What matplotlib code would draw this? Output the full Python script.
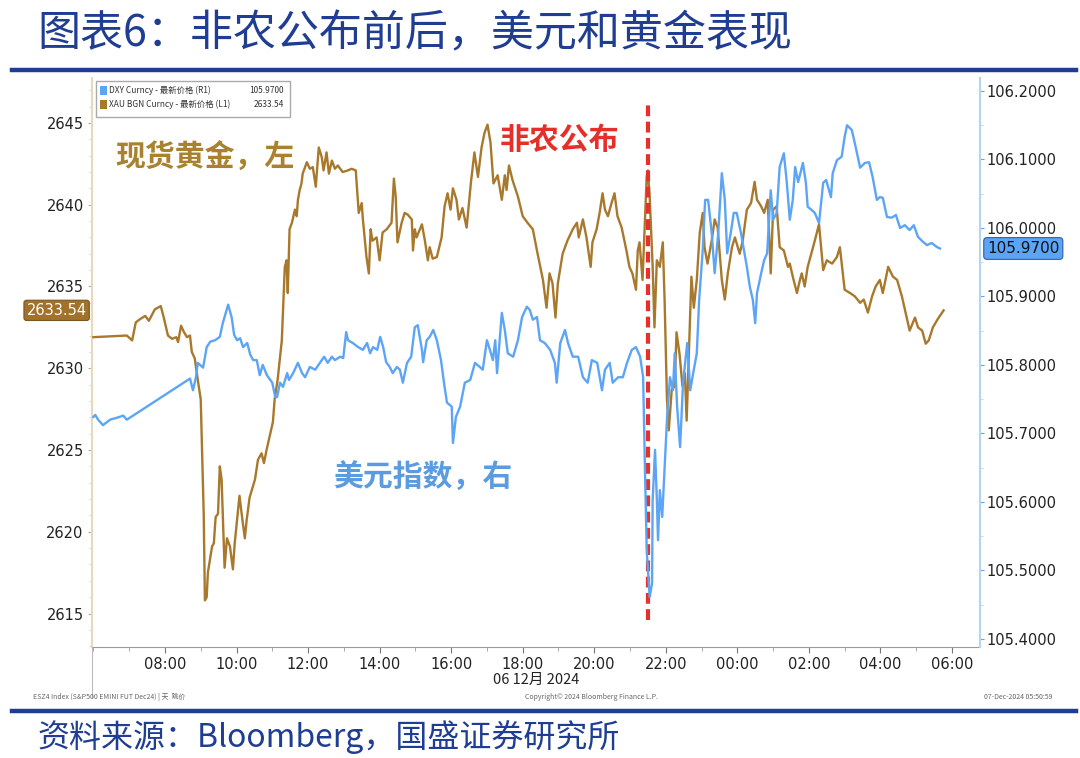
import numpy as np
import pandas as pd
import matplotlib
matplotlib.use("Agg")
import matplotlib.pyplot as plt
import matplotlib.dates as mdates
from matplotlib.lines import Line2D
from matplotlib.patches import Rectangle
from matplotlib.ticker import MultipleLocator, FixedLocator, FormatStrFormatter
from matplotlib.transforms import blended_transform_factory

plt.rcParams['font.family'] = ['Noto Sans CJK SC', 'DejaVu Sans']

# 现货黄金 (左轴), 北京时间 12/06 06:00 -> 12/07 05:46
gold_time = [
    "06:00", "06:56", "07:05", "07:11", "07:18", "07:27", "07:33", "07:43", "07:48", "07:53",
    "07:58", "08:05", "08:12", "08:19", "08:22", "08:27", "08:32", "08:37", "08:42", "08:45",
    "08:50", "08:55", "09:00", "09:02", "09:05", "09:07", "09:10", "09:12", "09:19", "09:22",
    "09:25", "09:29", "09:32", "09:35", "09:40", "09:44", "09:49", "09:54", "09:57", "10:02",
    "10:05", "10:10", "10:14", "10:17", "10:22", "10:27", "10:31", "10:36", "10:42", "10:46",
    "10:51", "10:56", "11:01", "11:04", "11:09", "11:16", "11:21", "11:24", "11:26", "11:29",
    "11:33", "11:38", "11:41", "11:43", "11:46", "11:49", "11:51", "11:55", "11:58", "12:03",
    "12:08", "12:13", "12:15", "12:18", "12:23", "12:26", "12:31", "12:35", "12:40", "12:45",
    "12:50", "12:58", "13:07", "13:13", "13:20", "13:23", "13:25", "13:30", "13:32", "13:38",
    "13:42", "13:45", "13:48", "13:55", "14:00", "14:05", "14:12", "14:20", "14:24", "14:27",
    "14:30", "14:37", "14:42", "14:47", "14:54", "14:56", "14:59", "15:02", "15:11", "15:16",
    "15:21", "15:24", "15:29", "15:36", "15:44", "15:49", "15:54", "15:59", "16:03", "16:09",
    "16:13", "16:19", "16:26", "16:33", "16:39", "16:45", "16:51", "16:56", "17:01", "17:06",
    "17:11", "17:18", "17:25", "17:30", "17:33", "17:37", "17:43", "17:52", "18:00", "18:08",
    "18:17", "18:25", "18:34", "18:40", "18:45", "18:50", "18:55", "18:59", "19:07", "19:15",
    "19:24", "19:31", "19:34", "19:41", "19:47", "19:54", "19:57", "20:04", "20:09", "20:14",
    "20:18", "20:23", "20:29", "20:34", "20:39", "20:46", "20:54", "20:59", "21:04", "21:10",
    "21:13", "21:16", "21:21", "21:28", "21:30", "21:33", "21:38", "21:41", "21:45", "21:50",
    "21:55", "21:58", "22:02", "22:05", "22:10", "22:15", "22:18", "22:23", "22:28", "22:32",
    "22:35", "22:38", "22:43", "22:47", "22:52", "22:57", "23:02", "23:05", "23:10", "23:17",
    "23:22", "23:27", "23:34", "23:39", "23:44", "23:51", "23:56", "00:04", "00:09", "00:16",
    "00:23", "00:29", "00:33", "00:40", "00:45", "00:51", "00:56", "01:00", "01:06", "01:11",
    "01:18", "01:25", "01:28", "01:33", "01:40", "01:45", "01:48", "01:53", "01:58", "02:07",
    "02:17", "02:24", "02:30", "02:39", "02:47", "02:52", "03:00", "03:09", "03:17", "03:26",
    "03:32", "03:39", "03:46", "03:52", "03:59", "04:04", "04:13", "04:21", "04:28", "04:36",
    "04:44", "04:49", "04:58", "05:03", "05:10", "05:16", "05:21", "05:28", "05:36", "05:46",
]
gold_price = [
    2631.9, 2632.0, 2631.7, 2632.8, 2633.0, 2633.2, 2632.9, 2633.6, 2633.7, 2633.8,
    2633.1, 2632.0, 2631.8, 2631.9, 2631.6, 2632.6, 2632.2, 2631.9, 2632.0, 2631.0,
    2630.6, 2629.3, 2628.1, 2625.2, 2621.1, 2615.8, 2616.0, 2617.5, 2619.1, 2619.3,
    2620.9, 2621.1, 2624.0, 2623.2, 2617.8, 2619.6, 2619.1, 2617.7, 2619.3, 2621.1,
    2622.2, 2620.7, 2619.6, 2620.7, 2622.1, 2622.7, 2623.2, 2624.4, 2624.8, 2624.2,
    2625.1, 2625.9, 2626.7, 2628.1, 2629.3, 2631.7, 2636.2, 2636.6, 2634.6, 2638.5,
    2638.9, 2639.7, 2639.3, 2640.3, 2640.9, 2641.3, 2641.9, 2642.3, 2642.6, 2642.2,
    2642.3, 2641.1, 2642.1, 2643.5, 2642.9, 2642.1, 2643.2, 2641.9, 2642.7, 2642.2,
    2642.4, 2642.0, 2642.1, 2642.2, 2642.1, 2640.5, 2639.5, 2640.1, 2639.1, 2636.8,
    2635.8, 2638.5, 2637.8, 2638.0, 2636.6, 2638.3, 2638.5, 2638.9, 2641.6, 2640.5,
    2637.7, 2638.9, 2639.5, 2639.4, 2639.1, 2637.2, 2638.5, 2638.0, 2638.8, 2637.8,
    2636.6, 2637.4, 2636.7, 2636.8, 2638.0, 2639.9, 2640.7, 2639.7, 2641.0, 2640.3,
    2639.1, 2639.8, 2638.6, 2641.3, 2643.2, 2641.7, 2643.5, 2644.4, 2644.9, 2643.8,
    2641.3, 2641.8, 2640.3, 2641.8, 2640.9, 2642.4, 2641.5, 2640.5, 2639.3, 2638.9,
    2638.5, 2637.0, 2635.4, 2633.7, 2635.8, 2635.2, 2633.1, 2635.2, 2637.0, 2637.8,
    2638.5, 2638.9, 2638.0, 2639.1, 2638.0, 2636.2, 2637.7, 2638.5, 2639.5, 2640.7,
    2639.7, 2639.3, 2640.1, 2640.7, 2639.3, 2638.6, 2637.2, 2636.2, 2635.8, 2634.8,
    2637.2, 2637.7, 2635.4, 2641.7, 2642.1, 2640.5, 2636.2, 2632.5, 2636.6, 2636.2,
    2637.7, 2634.2, 2628.1, 2626.2, 2628.7, 2628.9, 2632.2, 2630.9, 2628.9, 2629.7,
    2626.8, 2630.1, 2635.6, 2633.7, 2635.4, 2638.3, 2639.5, 2637.4, 2636.4, 2637.8,
    2639.1, 2638.6, 2635.4, 2634.2, 2635.8, 2637.4, 2638.0, 2637.0, 2637.8, 2639.7,
    2640.1, 2641.4, 2640.3, 2639.9, 2639.5, 2640.3, 2635.8, 2639.7, 2639.9, 2637.4,
    2637.2, 2636.2, 2636.4, 2635.6, 2634.6, 2635.4, 2635.8, 2635.0, 2636.2, 2637.4,
    2638.8, 2636.0, 2636.6, 2636.4, 2636.8, 2637.4, 2634.8, 2634.6, 2634.4, 2634.0,
    2634.2, 2633.4, 2634.4, 2635.0, 2635.4, 2634.6, 2636.2, 2635.6, 2635.4, 2634.4,
    2633.1, 2632.3, 2633.1, 2632.5, 2632.3, 2631.5, 2631.7, 2632.5, 2633.0, 2633.54,
]

# 美元指数 DXY (右轴)
dxy_time = [
    "06:00", "06:03", "06:08", "06:16", "06:28", "06:40", "06:50", "06:56", "08:42", "08:47",
    "08:52", "08:55", "09:04", "09:10", "09:16", "09:24", "09:32", "09:37", "09:46", "09:52",
    "09:56", "10:01", "10:06", "10:11", "10:18", "10:23", "10:28", "10:34", "10:39", "10:44",
    "10:51", "11:00", "11:05", "11:08", "11:13", "11:18", "11:25", "11:28", "11:35", "11:43",
    "11:50", "11:55", "12:03", "12:12", "12:20", "12:27", "12:33", "12:40", "12:45", "12:54",
    "12:59", "13:04", "13:07", "13:15", "13:24", "13:32", "13:39", "13:44", "13:49", "13:56",
    "14:01", "14:06", "14:11", "14:17", "14:22", "14:29", "14:34", "14:39", "14:46", "14:53",
    "14:59", "15:04", "15:11", "15:13", "15:19", "15:24", "15:30", "15:36", "15:43", "15:48",
    "15:53", "16:01", "16:03", "16:08", "16:15", "16:23", "16:32", "16:40", "16:48", "16:53",
    "17:00", "17:05", "17:10", "17:14", "17:17", "17:25", "17:30", "17:35", "17:44", "17:52",
    "17:59", "18:07", "18:12", "18:17", "18:24", "18:29", "18:37", "18:46", "18:54", "18:57",
    "19:03", "19:11", "19:16", "19:24", "19:33", "19:41", "19:49", "19:56", "20:05", "20:13",
    "20:18", "20:26", "20:31", "20:40", "20:48", "20:55", "21:03", "21:10", "21:17", "21:22",
    "21:25", "21:28", "21:33", "21:37", "21:38", "21:42", "21:45", "21:47", "21:50", "21:54",
    "21:57", "22:02", "22:07", "22:12", "22:15", "22:19", "22:24", "22:29", "22:36", "22:41",
    "22:46", "22:52", "22:56", "23:02", "23:06", "23:11", "23:17", "23:22", "23:28", "23:34",
    "23:39", "23:43", "23:49", "23:54", "23:59", "00:06", "00:11", "00:16", "00:21", "00:26",
    "00:30", "00:33", "00:40", "00:45", "00:50", "00:56", "01:00", "01:06", "01:11", "01:18",
    "01:23", "01:28", "01:33", "01:37", "01:42", "01:50", "01:55", "01:58", "02:05", "02:10",
    "02:17", "02:24", "02:29", "02:37", "02:40", "02:47", "02:55", "03:00", "03:04", "03:12",
    "03:17", "03:26", "03:34", "03:41", "03:47", "03:54", "03:59", "04:04", "04:11", "04:19",
    "04:26", "04:33", "04:41", "04:49", "04:56", "05:03", "05:11", "05:18", "05:26", "05:35",
    "05:40",
]
dxy_price = [
    105.724, 105.727, 105.720, 105.712, 105.720, 105.723, 105.726, 105.720, 105.780, 105.763,
    105.782, 105.803, 105.796, 105.826, 105.834, 105.836, 105.841, 105.861, 105.888, 105.869,
    105.844, 105.836, 105.839, 105.826, 105.832, 105.815, 105.807, 105.807, 105.785, 105.800,
    105.785, 105.774, 105.753, 105.753, 105.774, 105.768, 105.788, 105.778, 105.788, 105.803,
    105.788, 105.782, 105.797, 105.793, 105.803, 105.812, 105.803, 105.812, 105.807, 105.812,
    105.810, 105.848, 105.836, 105.832, 105.826, 105.822, 105.832, 105.817, 105.826, 105.822,
    105.841, 105.826, 105.804, 105.797, 105.788, 105.797, 105.793, 105.774, 105.803, 105.812,
    105.855, 105.858, 105.822, 105.804, 105.836, 105.841, 105.851, 105.836, 105.807, 105.774,
    105.745, 105.739, 105.686, 105.724, 105.739, 105.774, 105.778, 105.803, 105.797, 105.793,
    105.836, 105.822, 105.807, 105.836, 105.788, 105.876, 105.851, 105.817, 105.812, 105.836,
    105.870, 105.885, 105.880, 105.866, 105.870, 105.836, 105.832, 105.822, 105.803, 105.774,
    105.832, 105.851, 105.832, 105.812, 105.812, 105.782, 105.774, 105.807, 105.803, 105.763,
    105.793, 105.803, 105.774, 105.782, 105.782, 105.803, 105.822, 105.826, 105.812, 105.782,
    105.651, 105.530, 105.461, 105.481, 105.603, 105.676, 105.603, 105.544, 105.617, 105.578,
    105.632, 105.720, 105.782, 105.763, 105.817, 105.739, 105.680, 105.774, 105.832, 105.763,
    105.788, 105.817, 105.895, 105.968, 106.041, 106.041, 105.993, 105.934, 105.993, 106.080,
    106.041, 105.963, 105.993, 106.022, 106.022, 105.993, 105.968, 105.943, 105.914, 105.895,
    105.861, 105.905, 105.934, 105.953, 105.963, 106.055, 106.012, 106.022, 106.089, 106.109,
    106.066, 106.012, 106.041, 106.089, 106.067, 106.095, 106.066, 106.031, 106.026, 106.022,
    106.007, 106.066, 106.070, 106.045, 106.080, 106.099, 106.104, 106.133, 106.150, 106.143,
    106.124, 106.088, 106.095, 106.096, 106.074, 106.041, 106.045, 106.044, 106.016, 106.015,
    106.019, 106.000, 106.004, 105.997, 106.004, 105.987, 105.980, 105.975, 105.978, 105.972,
    105.970,
]

gold_left_ticks = [2615, 2620, 2625, 2630, 2635, 2640, 2645]
dxy_right_ticks = [105.4, 105.5, 105.6, 105.7, 105.8, 105.9, 106.0, 106.1, 106.2]
x_tick_times = ["08:00", "10:00", "12:00", "14:00", "16:00", "18:00", "20:00", "22:00",
                "00:00", "02:00", "04:00", "06:00"]
nfp_time = "21:30"


def to_dt(ts, last_day_06=False):
    out = []
    for t in ts:
        hh = int(t[:2])
        day = "2024-12-07" if (hh < 6 or (last_day_06 and hh == 6)) else "2024-12-06"
        out.append(pd.Timestamp(day + " " + t))
    return out


gt = to_dt(gold_time)
dt = to_dt(dxy_time)

gold_c = "#A8782C"
blue_c = "#5CA5F6"
navy = "#1F3E93"

fig = plt.figure(figsize=(10.8, 7.58), dpi=100)
ax = fig.add_axes([0.0852, 0.1464, 0.8222, 0.7507])
ax2 = ax.twinx()

ax.plot(gt, gold_price, color=gold_c, lw=1.7, zorder=3)
ax2.plot(dt, dxy_price, color=blue_c, lw=1.7, zorder=3)

ax.set_xlim(pd.Timestamp("2024-12-06 05:57:40"), pd.Timestamp("2024-12-07 06:47"))
ax.set_ylim(2612.95, 2647.75)
ax2.set_ylim(105.388, 106.219)

xt = to_dt(x_tick_times, last_day_06=True)
ax.set_xticks(xt)
ax.set_xticklabels(x_tick_times)
ax.xaxis.set_minor_locator(mdates.HourLocator())
ax.set_yticks(gold_left_ticks)
ax.yaxis.set_minor_locator(MultipleLocator(1))
ax2.yaxis.set_major_locator(FixedLocator(dxy_right_ticks))
ax2.yaxis.set_minor_locator(MultipleLocator(0.05))
ax2.yaxis.set_major_formatter(FormatStrFormatter("%.4f"))

for s in ["top", "right"]:
    ax.spines[s].set_visible(False)
for s in ["top", "left", "bottom"]:
    ax2.spines[s].set_visible(False)
ax.spines["left"].set_color("#E8D8C2")
ax.spines["left"].set_linewidth(1.5)
ax.spines["bottom"].set_color("#9A9A9A")
ax2.spines["right"].set_color("#B5D3F3")
ax2.spines["right"].set_linewidth(1.5)

ax.tick_params(axis="x", which="major", length=4, color="#777777", labelsize=10.5,
               labelcolor="#222222", pad=3)
ax.tick_params(axis="x", which="minor", length=3, color="#999999")
ax.tick_params(axis="y", which="major", length=3, color="#C9A878", labelsize=10.5,
               labelcolor="#222222", pad=3)
ax.tick_params(axis="y", which="minor", length=2, color="#E0CDB0")
ax2.tick_params(axis="y", which="major", length=3, color=blue_c, labelsize=10.5,
                labelcolor="#222222", pad=2)
ax2.tick_params(axis="y", which="minor", length=2, color="#B5D3F3")
for lab in ax.get_xticklabels() + ax.get_yticklabels() + ax2.get_yticklabels():
    lab.set_family("DejaVu Sans")

ax.set_xlabel("06 12月 2024", fontsize=10.5, color="#222222", labelpad=1)

# 非农公布 dashed line
ax.axvline(to_dt([nfp_time])[0], ymin=0.047, ymax=0.953, color="#E8302A", lw=3,
           dashes=(2.6, 1.3), zorder=5)

# value tags
trL = blended_transform_factory(ax.transAxes, ax.transData)
ax.text(-0.006, gold_price[-1], f"{gold_price[-1]:.2f}", transform=trL, ha="right",
        va="center", fontsize=10.5, color="white", family="DejaVu Sans", clip_on=False,
        bbox=dict(boxstyle="round,pad=0.18", fc="#A0722A", ec="#7A5520", lw=0.8))
trR = blended_transform_factory(ax2.transAxes, ax2.transData)
ax2.text(1.008, dxy_price[-1], f"{dxy_price[-1]:.4f}", transform=trR, ha="left",
         va="center", fontsize=11, color="#111111", family="DejaVu Sans", clip_on=False,
         bbox=dict(boxstyle="round,pad=0.22", fc=blue_c, ec="#2F5E9E", lw=0.8))

# legend box
ax2.add_patch(Rectangle((0.004, 0.931), 0.219, 0.064, transform=ax2.transAxes,
                        fc="white", ec="#AAAAAA", lw=1, zorder=6, clip_on=False))
leg_rows = [("DXY Curncy - 最新价格 (R1)", f"{dxy_price[-1]:.4f}", blue_c, 0.978),
            ("XAU BGN Curncy - 最新价格 (L1)", f"{gold_price[-1]:.2f}", gold_c, 0.953)]
for name, val, col, yy in leg_rows:
    ax2.add_patch(Rectangle((0.009, yy - 0.008), 0.008, 0.016, transform=ax2.transAxes,
                            fc=col, ec="none", zorder=7))
    ax2.text(0.019, yy, name, transform=ax2.transAxes, fontsize=6, va="center",
             color="#333333", zorder=7)
    ax2.text(0.216, yy, val, transform=ax2.transAxes, fontsize=6, va="center",
             ha="right", color="#333333", zorder=7)

# annotations
fig.text(0.1065, 0.7916, "现货黄金，左", fontsize=21.5, color="#A8822E", va="center",
         fontweight="bold")
fig.text(0.463, 0.8153, "非农公布", fontsize=21.5, color="#E5302A", va="center",
         fontweight="bold")
fig.text(0.3083, 0.3694, "美元指数，右", fontsize=21.5, color="#5B9BE0", va="center",
         fontweight="bold")

# header / footer
fig.text(0.035, 0.954, "图表6：非农公布前后，美元和黄金表现", fontsize=31, color=navy,
         va="center", style="italic")
fig.add_artist(Line2D([0.011, 0.996], [0.9077, 0.9077], color=navy, lw=3.2))
fig.add_artist(Line2D([0.011, 0.996], [0.0620, 0.0620], color=navy, lw=3.2))
fig.add_artist(Line2D([0.0852, 0.0852], [0.080, 0.1464], color="#BBBBBB", lw=0.8))
fig.text(0.035, 0.028, "资料来源：Bloomberg，国盛证券研究所", fontsize=23, color=navy,
         va="center", style="italic")
fig.text(0.031, 0.0805, "ESZ4 Index (S&P500 EMINI FUT Dec24) | 天  跳价", fontsize=5,
         color="#666666", va="center")
fig.text(0.548, 0.0805, "Copyright© 2024 Bloomberg Finance L.P.", fontsize=5,
         color="#666666", va="center", ha="center")
fig.text(0.974, 0.0805, "07-Dec-2024 05:50:59", fontsize=5, color="#666666",
         va="center", ha="right")

fig.savefig("out.png", dpi=100)
